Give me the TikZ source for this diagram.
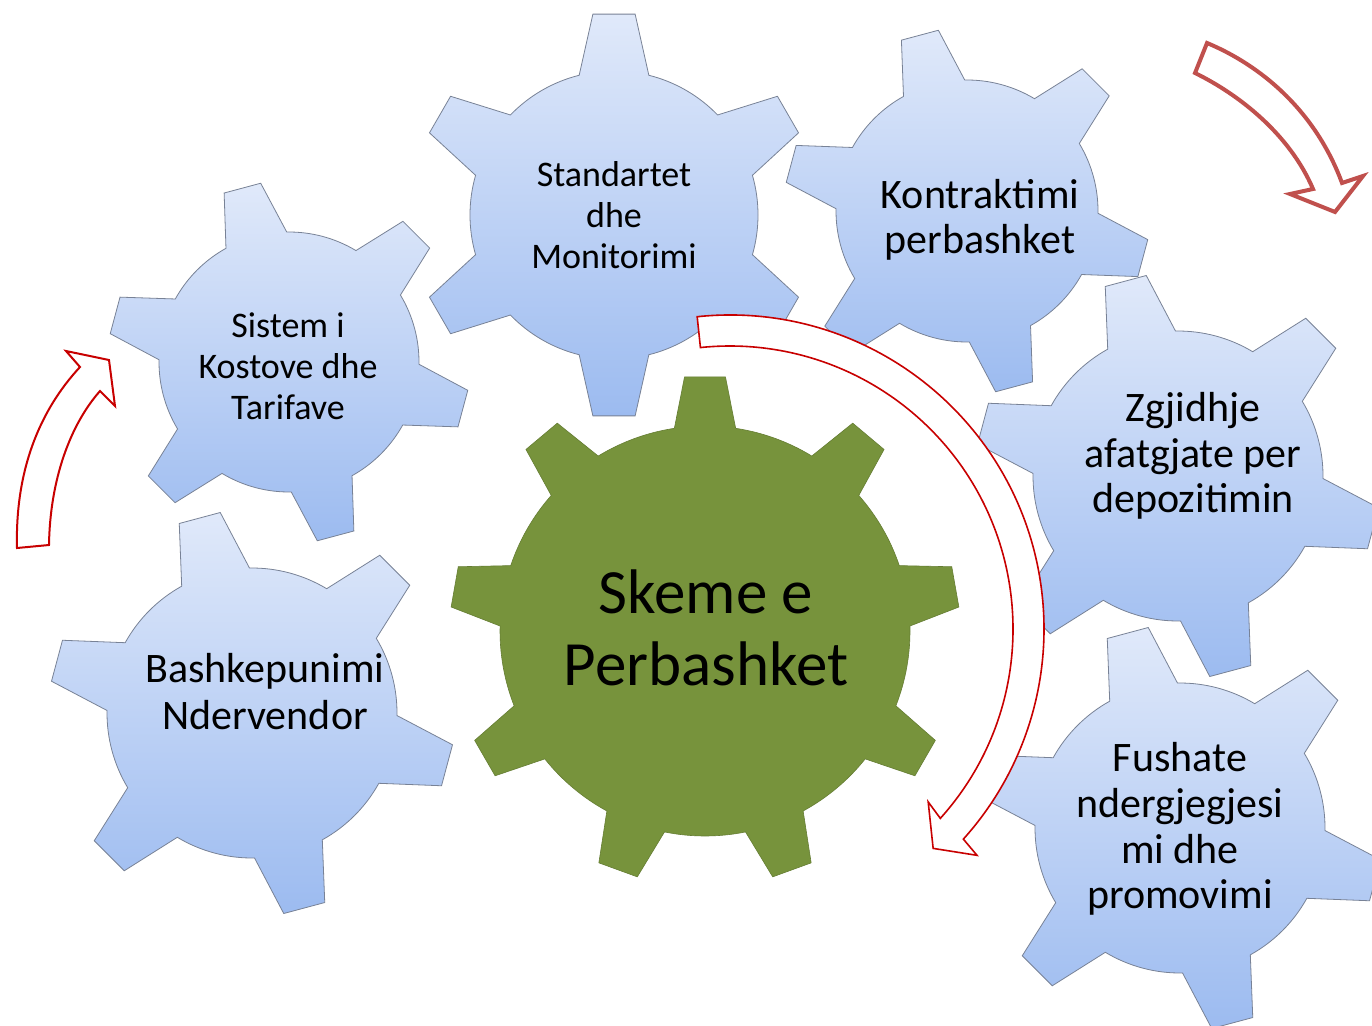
\documentclass[tikz,border=0pt]{standalone}
\usepackage{fontspec}
\setmainfont{Carlito}
\definecolor{gearGreen}{RGB}{119,147,60}
\definecolor{gearTop}{RGB}{224,233,250}
\definecolor{gearBot}{RGB}{156,187,240}
\definecolor{gearLine}{RGB}{120,130,150}
\definecolor{arrRed}{RGB}{200,0,0}
\definecolor{arrRose}{RGB}{192,80,77}
% #1 style, #2 cx, #3 cy (image px, y down), #4 tip radius, #5 body radius,
% #6 teeth, #7 first tooth angle, #8 tip half-angle, #9 base half-angle
\newcommand{\drawgear}[9]{%
  \begin{scope}[shift={(#2,-#3)}]
    \pgfmathsetmacro\gstep{360/#6}
    \pgfmathtruncatemacro\glast{#6-1}
    \path[#1] ({#7-#9}:#5pt) \foreach \gi in {0,...,\glast}{
       -- ({#7+\gi*\gstep-#8}:#4pt) -- ({#7+\gi*\gstep+#8}:#4pt) -- ({#7+\gi*\gstep+#9}:#5pt)
       arc[start angle={#7+\gi*\gstep+#9}, end angle={#7+(\gi+1)*\gstep-#9}, radius=#5pt]
    } -- cycle;
  \end{scope}}
\tikzset{
  bluegear/.style={top color=gearTop, bottom color=gearBot, draw=gearLine, line width=0.8pt, line join=miter},
  greengear/.style={fill=gearGreen, draw=gearGreen!85!black, line width=0.6pt},
  gtext/.style={align=center, inner sep=0pt, text=black},
  bigarrow/.style={fill=white, draw=arrRed, line width=1.6pt, line join=miter},
  leftarrow/.style={fill=white, draw=arrRed, line width=2pt, line join=miter},
  rosearrow/.style={fill=white, draw=arrRose, line width=4pt, line join=miter},
}
\begin{document}
\begin{tikzpicture}[x=1pt,y=1pt]
\useasboundingbox[fill=white] (0,0) rectangle (1372,-1025);
% blue gears
\drawgear{bluegear}{614}{215}{202}{144}{6}{90}{6}{14}
\drawgear{bluegear}{967}{211}{183}{131}{6}{105}{6}{14}
\drawgear{bluegear}{289}{362}{181}{130}{6}{105}{6}{14}
\drawgear{bluegear}{252}{713}{203}{145}{6}{105}{6}{14}
\drawgear{bluegear}{1178}{476}{203}{145}{6}{105}{6}{14}
\drawgear{bluegear}{1180}{828}{203}{145}{6}{105}{6}{14}
% green gear
\drawgear{greengear}{705}{631}{255}{205}{9}{90}{4.6}{8.6}
% big circular arrow
\begin{scope}[shift={(730,-629)}]
  \path[bigarrow] (96:314pt) arc[start angle=96, end angle=-42, radius=314pt]
     -- (-42.5:335pt) -- (-47.2:299pt) -- (-41.1:263pt) -- (-42:283pt)
     arc[start angle=-42, end angle=96, radius=283pt] -- cycle;
\end{scope}
% left arrow
\path[leftarrow] (17,-548) .. controls (15,-470) and (40,-410) .. (80,-367)
   -- (66,-351) -- (109,-360) -- (115,-406) -- (100,-391)
   .. controls (70,-425) and (50,-480) .. (49,-545) -- cycle;
% top right arrow
\path[rosearrow] (1207,-43) .. controls (1260,-65) and (1315,-110) .. (1342,-183)
   -- (1363,-176) -- (1335,-212) -- (1290,-194) -- (1313,-189)
   .. controls (1290,-135) and (1240,-95) .. (1195,-73) -- cycle;
% texts
\node[gtext, font=\fontsize{36}{41}\selectfont] (std) at (614,-215) {Standartet\\dhe\\Monitorimi};
\node[gtext, font=\fontsize{42}{45}\selectfont] (kon) at (980,-220) {Kontraktimi\\perbashket};
\node[gtext, font=\fontsize{36}{41}\selectfont] (sis) at (288,-366) {Sistem i\\Kostove dhe\\Tarifave};
\node[gtext, font=\fontsize{42}{47}\selectfont] (bas) at (265,-692) {Bashkepunimi\\Ndervendor};
\node[gtext, font=\fontsize{42}{45.5}\selectfont] (zgj) at (1193,-456) {Zgjidhje\\afatgjate per\\depozitimin};
\node[gtext, font=\fontsize{42}{45.7}\selectfont] (fus) at (1180,-829) {Fushate\\ndergjegjesi\\mi dhe\\promovimi};
\node[gtext, font=\fontsize{63}{72}\selectfont] (skm) at (706,-628) {Skeme e\\Perbashket};
\end{tikzpicture}
\end{document}
